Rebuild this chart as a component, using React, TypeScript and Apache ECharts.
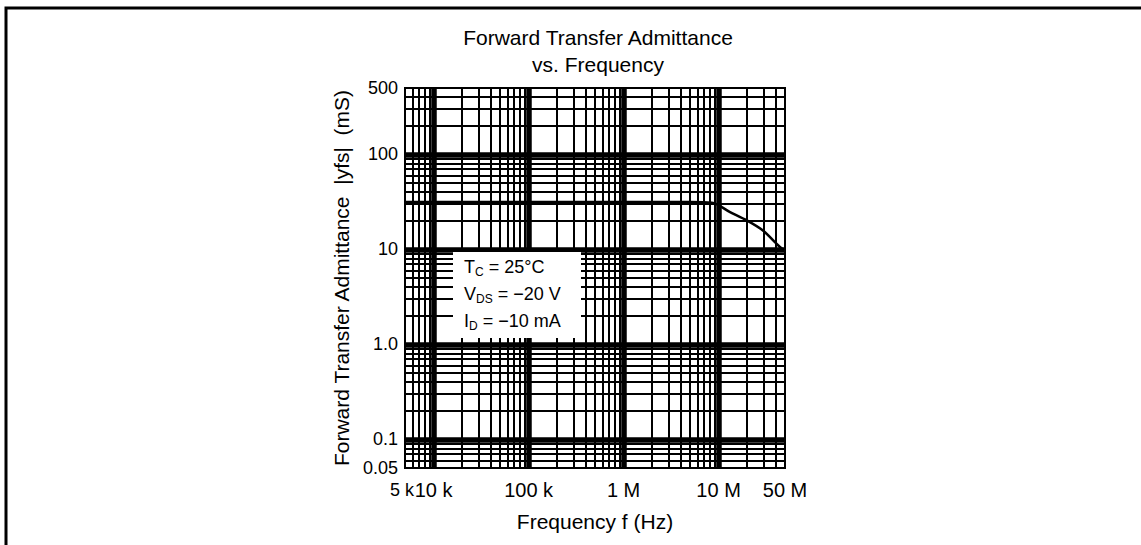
import React, { useEffect, useRef } from "react";
import * as echarts from "echarts";

// ---- tick labels ----
const xTickValues = [5e3, 1e4, 1e5, 1e6, 1e7, 5e7];
const xTickLabels = ["5 k", "10 k", "100 k", "1 M", "10 M", "50 M"];
const yTickValues = [0.05, 0.1, 1, 10, 100, 500];
const yTickLabels = ["0.05", "0.1", "1.0", "10", "100", "500"];

// ---- grid lines (log paper) ----
const xMajorGrid = [1e4, 1e5, 1e6, 1e7];
const xMinorGrid = [
  6e3, 7e3, 8e3, 9e3,
  2e4, 3e4, 4e4, 5e4, 6e4, 7e4, 8e4, 9e4,
  2e5, 3e5, 4e5, 5e5, 6e5, 7e5, 8e5, 9e5,
  2e6, 3e6, 4e6, 5e6, 6e6, 7e6, 8e6, 9e6,
  2e7, 3e7, 4e7,
];
const yMajorGrid = [0.1, 1, 10, 100];
const yMinorGrid = [
  0.06, 0.07, 0.08, 0.09,
  0.2, 0.3, 0.4, 0.5, 0.6, 0.7, 0.8, 0.9,
  2, 3, 4, 5, 6, 7, 8, 9,
  20, 30, 40, 50, 60, 70, 80, 90,
  200, 300, 400,
];

// ---- curve: |yfs| (mS) vs frequency (Hz) ----
const freqHz = [5e3, 1e5, 1e6, 5e6, 8.5e6, 1.32e7, 1.98e7, 2.93e7, 4.42e7, 5e7];
const yfsMs = [31.5, 31.5, 31.5, 31.5, 31, 24.7, 20.2, 15.8, 10.6, 9.8];

const FONT = '"Liberation Sans", Arial, Helvetica, sans-serif';

function fmt(values: number[], labels: string[], only?: number) {
  return (v: number) => {
    const i = values.findIndex((t) => Math.abs(v - t) / t < 1e-6);
    if (i < 0) return "";
    if (only !== undefined && i !== only) return "";
    if (only === undefined && i === 0) return "";
    return labels[i];
  };
}

function yfmt(v: number) {
  const i = yTickValues.findIndex((t) => Math.abs(v - t) / t < 1e-6);
  return i >= 0 ? yTickLabels[i] : "";
}

export default function App() {
  const ref = useRef<HTMLDivElement>(null);
  useEffect(() => {
    if (!ref.current) return;
    const chart = echarts.init(ref.current, undefined, { renderer: "svg" });
    const minor = 2;
    const major = 5.5;
    const markData: any[] = [
      ...xMinorGrid.map((v) => ({ xAxis: v, lineStyle: { width: minor } })),
      ...xMajorGrid.map((v) => ({ xAxis: v, lineStyle: { width: major } })),
      ...yMinorGrid.map((v) => ({ yAxis: v, lineStyle: { width: minor } })),
      ...yMajorGrid.map((v) => ({ yAxis: v, lineStyle: { width: major } })),
    ];
    const xBase: any = {
      type: "log",
      logBase: 10,
      min: 5e3,
      max: 5e7,
      splitNumber: 4,
      gridIndex: 0,
      position: "bottom",
      axisLine: { show: false },
      axisTick: { show: false },
      splitLine: { show: false },
      minorTick: { show: false },
    };
    const xLabel = {
      show: true,
      margin: 12,
      fontFamily: FONT,
      fontSize: 20,
      color: "#000",
    };
    chart.setOption({
      animation: false,
      backgroundColor: "#ffffff",
      title: {
        text: "Forward Transfer Admittance\nvs. Frequency",
        left: 593,
        top: 19,
        textAlign: "center",
        textStyle: {
          fontFamily: FONT,
          fontSize: 21,
          fontWeight: "normal",
          color: "#000",
          lineHeight: 27,
        },
      },
      grid: {
        left: 405,
        right: 356,
        top: 88,
        bottom: 77,
        show: true,
        borderColor: "#000",
        borderWidth: 2,
        backgroundColor: "transparent",
      },
      xAxis: [
        {
          ...xBase,
          name: "Frequency f (Hz)",
          nameLocation: "middle",
          nameGap: 43,
          nameTextStyle: { fontFamily: FONT, fontSize: 21, color: "#000" },
          axisLabel: {
            ...xLabel,
            showMinLabel: false,
            showMaxLabel: true,
            formatter: fmt(xTickValues, xTickLabels),
          },
        },
        {
          ...xBase,
          axisLabel: {
            ...xLabel,
            fontSize: 18,
            padding: [0, 6, 0, 0],
            margin: 13,
            showMinLabel: true,
            showMaxLabel: false,
            formatter: fmt(xTickValues, xTickLabels, 0),
          },
        },
      ],
      yAxis: {
        type: "log",
        logBase: 10,
        min: 0.05,
        max: 500,
        splitNumber: 4,
        name: "Forward Transfer Admittance  |yfs|  (mS)",
        nameLocation: "middle",
        nameGap: 53,
        nameTextStyle: { fontFamily: FONT, fontSize: 21, color: "#000" },
        axisLine: { show: false },
        axisTick: { show: false },
        splitLine: { show: false },
        minorTick: { show: false },
        axisLabel: {
          show: true,
          showMinLabel: true,
          showMaxLabel: true,
          margin: 7,
          fontFamily: FONT,
          fontSize: 18,
          color: "#000",
          formatter: yfmt,
        },
      },
      series: [
        {
          type: "line",
          name: "|yfs|",
          xAxisIndex: 0,
          data: freqHz.map((f, i) => [f, yfsMs[i]]),
          showSymbol: false,
          smooth: 0.3,
          z: 5,
          lineStyle: { color: "#000", width: 2.5 },
          markLine: {
            silent: true,
            symbol: ["none", "none"],
            label: { show: false },
            lineStyle: { color: "#000", type: "solid", width: minor },
            emphasis: { disabled: true },
            data: markData,
          },
        },
      ],
      graphic: [
        {
          type: "polyline",
          z: 200,
          shape: { points: [[6, 545], [6, 8], [1141, 8]] },
          style: { stroke: "#000", lineWidth: 3, fill: "none" },
        },
        {
          type: "group",
          z: 100,
          children: [
            {
              type: "rect",
              z: 100,
              shape: { x: 453, y: 252, width: 128, height: 86 },
              style: { fill: "#fff" },
            },
            {
              type: "text",
              z: 101,
              x: 464,
              y: 256,
              style: {
                text: "{m|T}{s|C}{m| = 25°C}",
                rich: {
                  m: { fontFamily: FONT, fontSize: 18, lineHeight: 22, color: "#000", verticalAlign: "middle" },
                  s: { fontFamily: FONT, fontSize: 12, lineHeight: 12, color: "#000", verticalAlign: "bottom" },
                },
              },
            },
            {
              type: "text",
              z: 101,
              x: 464,
              y: 283,
              style: {
                text: "{m|V}{s|DS}{m| = −20 V}",
                rich: {
                  m: { fontFamily: FONT, fontSize: 18, lineHeight: 22, color: "#000", verticalAlign: "middle" },
                  s: { fontFamily: FONT, fontSize: 12, lineHeight: 12, color: "#000", verticalAlign: "bottom" },
                },
              },
            },
            {
              type: "text",
              z: 101,
              x: 464,
              y: 310,
              style: {
                text: "{m|I}{s|D}{m| = −10 mA}",
                rich: {
                  m: { fontFamily: FONT, fontSize: 18, lineHeight: 22, color: "#000", verticalAlign: "middle" },
                  s: { fontFamily: FONT, fontSize: 12, lineHeight: 12, color: "#000", verticalAlign: "bottom" },
                },
              },
            },
          ],
        },
      ],
    });
    return () => chart.dispose();
  }, []);
  return (
    <div
      ref={ref}
      style={{ position: "fixed", left: 0, top: 0, width: 1141, height: 545, background: "#fff" }}
    />
  );
}
